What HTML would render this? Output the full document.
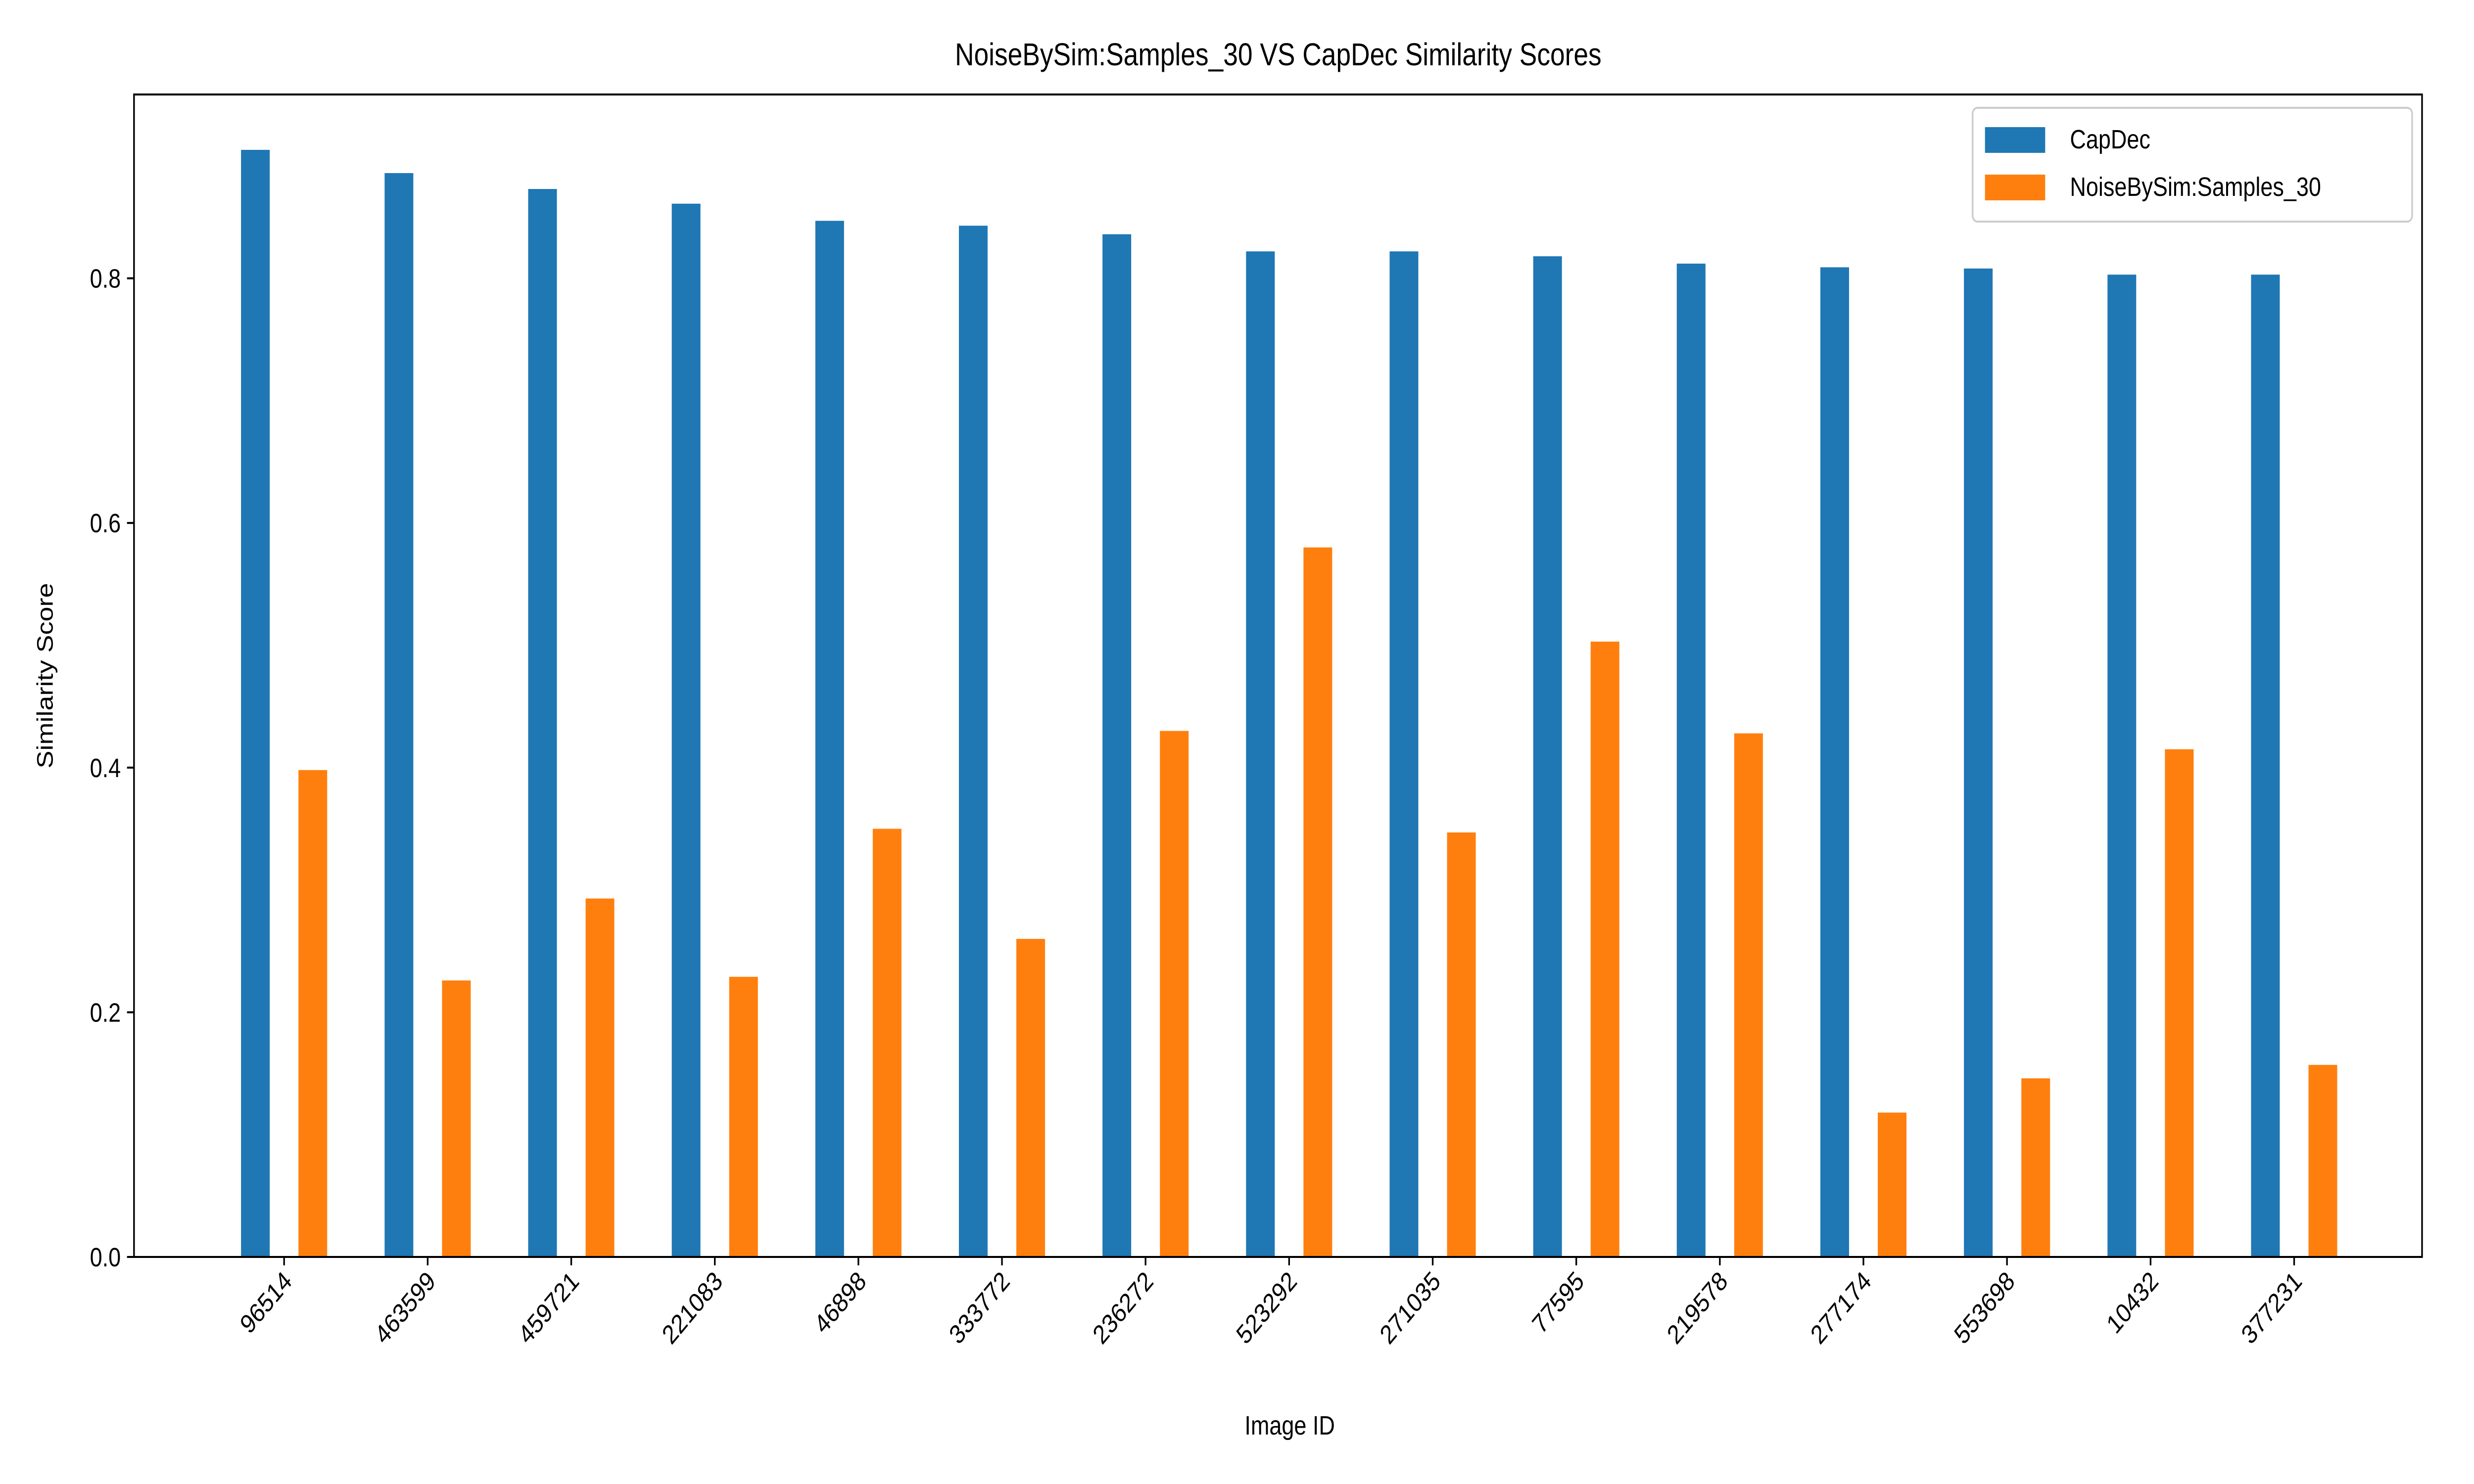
<!DOCTYPE html>
<html><head><meta charset="utf-8"><style>
html,body{margin:0;padding:0;background:#fff;width:100%;height:100%;overflow:hidden;}
svg{display:block;width:100vw;height:100vh;font-family:"Liberation Sans","DejaVu Sans",sans-serif;}
</style></head><body>
<svg id="chart" viewBox="0 0 6000 3000" preserveAspectRatio="none" xmlns="http://www.w3.org/2000/svg">
<rect width="6000" height="3000" fill="#fff"/>
<g id="bars"></g>
<g id="axes"></g>
<text x="3100" y="132" font-size="64" text-anchor="middle">NoiseBySim:Samples_30 VS CapDec Similarity Scores</text>
<text x="3128" y="2900" font-size="54" text-anchor="middle">Image ID</text>
<text x="0" y="0" font-size="54" text-anchor="middle" transform="translate(128,1366) rotate(-90)">Similarity Score</text>
<g>
<rect x="4784" y="218" width="1066" height="230" fill="#fff" fill-opacity="0.8" stroke="#ccc" stroke-width="4" rx="12"/>
<rect x="4814" y="257" width="146" height="52" fill="#1f77b4"/>
<text x="5020" y="300" font-size="54">CapDec</text>
<rect x="4814" y="353" width="146" height="52" fill="#ff7f0e"/>
<text x="5020" y="396" font-size="54">NoiseBySim:Samples_30</text>
</g>
</svg>
<script>
const categories = ["96514","463599","459721","221083","46898","333772","236272","523292","271035","77595","219578","277174","553698","10432","377231"];
const capdecValues = [0.905,0.886,0.873,0.861,0.847,0.843,0.836,0.822,0.822,0.818,0.812,0.809,0.808,0.803,0.803];
const noiseValues = [0.398,0.226,0.293,0.229,0.350,0.260,0.430,0.580,0.347,0.503,0.428,0.118,0.146,0.415,0.157];
const yTicks = [0.0,0.2,0.4,0.6,0.8];
const yTickLabels = ["0.0","0.2","0.4","0.6","0.8"];

const NS="http://www.w3.org/2000/svg";
const L=325,R=5874,T=191,B=2541;
const x0=689, step=348.2, barW=69.6;
function xPos(i){return x0+i*step;}
function yPos(v){return B - v*2473;}
const bars=document.getElementById('bars');
const axes=document.getElementById('axes');
function mk(tag,attrs,parent){const e=document.createElementNS(NS,tag);for(const k in attrs)e.setAttribute(k,attrs[k]);parent.appendChild(e);return e;}
categories.forEach((c,i)=>{
  const cx=xPos(i);
  const b1=mk('rect',{x:cx-0.2*step-barW/2,y:yPos(capdecValues[i]),width:barW,height:B-yPos(capdecValues[i]),fill:'#1f77b4'},bars);
  
  
  const b2=mk('rect',{x:cx+0.2*step-barW/2,y:yPos(noiseValues[i]),width:barW,height:B-yPos(noiseValues[i]),fill:'#ff7f0e'},bars);
  
  
  const t=mk('line',{x1:cx,x2:cx,y1:B,y2:B+17,stroke:'#000','stroke-width':4},axes);
  
  
  const lb=mk('text',{x:0,y:0,'font-size':54,'text-anchor':'end',transform:`translate(${cx+22},${B+52}) rotate(-45)`},axes);
  lb.textContent=c;
  
  
});
yTicks.forEach((v,i)=>{
  const y=yPos(v);
  const t=mk('line',{x1:L-17,x2:L,y1:y,y2:y,stroke:'#000','stroke-width':4},axes);
  
  
  const lb=mk('text',{x:L-32,y:y+19,'font-size':54,'text-anchor':'end'},axes);
  lb.textContent=yTickLabels[i];
  
  
});
const frame=mk('rect',{x:L,y:T,width:R-L,height:B-T,fill:'none',stroke:'#000','stroke-width':4},axes);


</script>
</body></html>
